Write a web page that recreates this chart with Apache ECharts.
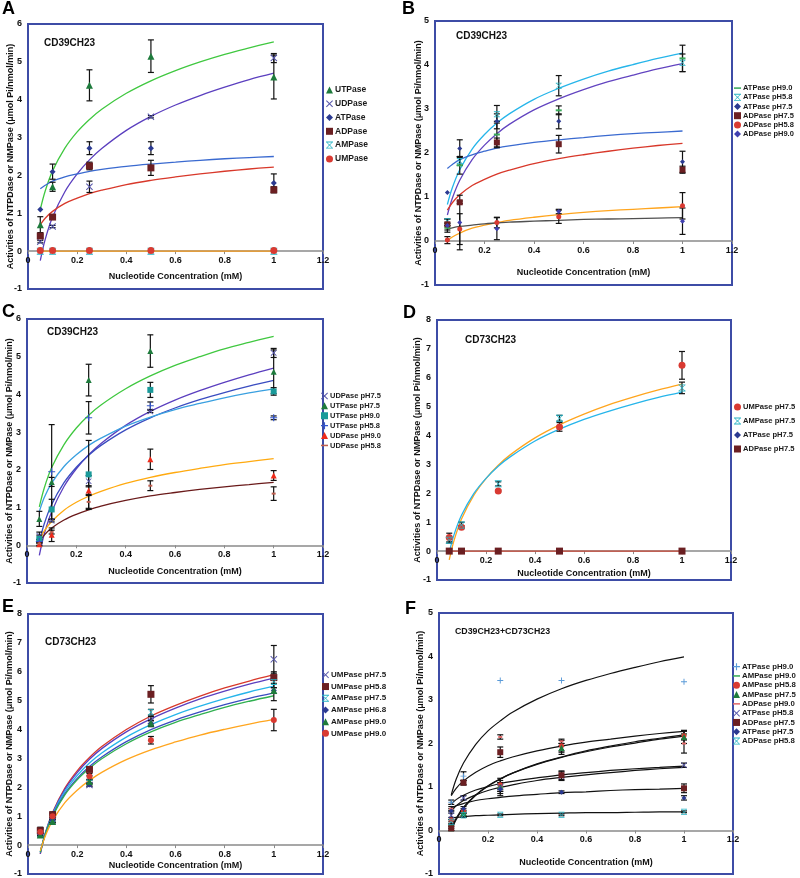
<!DOCTYPE html>
<html><head><meta charset="utf-8">
<script src="https://cdn.jsdelivr.net/npm/echarts@6/dist/echarts.min.js"></script>
<style>
html,body{margin:0;padding:0;background:#fff;width:800px;height:878px;overflow:hidden;position:relative}
.p{position:absolute}
</style></head>
<body>
<div id="pA" class="p" style="left:0;top:0;width:400px;height:298px"></div>
<div id="pB" class="p" style="left:400px;top:0;width:400px;height:298px"></div>
<div id="pC" class="p" style="left:0;top:290px;width:400px;height:298px"></div>
<div id="pD" class="p" style="left:400px;top:290px;width:400px;height:298px"></div>
<div id="pE" class="p" style="left:0;top:580px;width:400px;height:298px"></div>
<div id="pF" class="p" style="left:400px;top:580px;width:400px;height:298px"></div>
<script>
// ---------- shared x values ----------
const X = [0.05, 0.1, 0.25, 0.5, 1];                       // measured concentrations
const CX = [0.05,0.07,0.1,0.15,0.2,0.25,0.3,0.4,0.5,0.6,0.7,0.8,0.9,1]; // positions where fitted curves were read
const X_TICKS = [0, 0.2, 0.4, 0.6, 0.8, 1, 1.2];

// ---------- Panel A ----------
const A_UTPase = [0.7,1.7,4.38,5.15,4.6];   const A_UTPase_err = [0.21,0.12,0.41,0.43,0.58];
const A_UDPase = [0.25,0.65,1.7,3.55,5.1];  const A_UDPase_err = [0.03,0.03,0.15,0.03,0.12];
const A_ATPase = [1.1,2.1,2.72,2.72,1.8];   const A_ATPase_err = [0,0.2,0.17,0.17,0.24];
const A_ADPase = [0.4,0.9,2.25,2.2,1.62];   const A_ADPase_err = [0.03,0.05,0.1,0.2,0.08];
const A_AMPase = [0,0,0,0,0];
const A_UMPase = [0.02,0.02,0.02,0.02,0.02];
const A_fit_UTP = [1.10,1.59,2.12,2.72,3.15,3.48,3.75,4.17,4.50,4.77,5.00,5.20,5.37,5.53];
const A_fit_UDP = [-0.25,0.31,0.90,1.57,2.04,2.41,2.71,3.19,3.56,3.86,4.11,4.33,4.53,4.70];
const A_fit_ATP = [1.65,1.74,1.85,1.96,2.04,2.11,2.16,2.24,2.30,2.35,2.40,2.44,2.47,2.50];
const A_fit_ADP = [0.70,0.87,1.05,1.26,1.40,1.52,1.61,1.76,1.87,1.96,2.04,2.11,2.17,2.22];
const A_fit_UMP = [0,0,0,0,0,0,0,0,0,0,0,0,0,0];

// ---------- Panel B ----------
const B_ATP90 = [0.3,1.72,2.42,2.97,4.15];  const B_ATP90_err = [0.05,0.2,0.3,0.1,0.3];
const B_ATP58 = [0.45,1.82,2.88,3.53,4.05]; const B_ATP58_err = [0.05,0.1,0.2,0.23,0.2];
const B_ATP75 = [1.1,2.1,2.72,2.72,1.8];    const B_ATP75_err = [0,0.2,0.17,0.17,0.24];
const B_ADP75 = [0.38,0.88,2.24,2.2,1.62];  const B_ADP75_err = [0.03,0.03,0.1,0.2,0.08];
const B_ADP58 = [0.02,0.27,0.42,0.55,0.8];  const B_ADP58_err = [0.08,0.35,0.12,0.15,0.3];
const B_ADP90 = [0.35,0.42,0.28,0.67,0.45]; const B_ADP90_err = [0.15,0.62,0.25,0.05,0.3];
const B_fit_ATP58 = [0.83,1.21,1.62,2.09,2.42,2.68,2.89,3.22,3.47,3.68,3.86,4.01,4.15,4.27];
const B_fit_ATP90 = [0.59,0.97,1.38,1.85,2.18,2.44,2.65,2.98,3.23,3.44,3.62,3.77,3.91,4.03];
const B_fit_ATP75 = [1.65,1.74,1.85,1.96,2.04,2.11,2.16,2.24,2.30,2.35,2.40,2.44,2.47,2.50];
const B_fit_ADP75 = [0.70,0.87,1.05,1.26,1.40,1.52,1.61,1.76,1.87,1.96,2.04,2.11,2.17,2.22];
const B_fit_ADP58 = [0.00,0.09,0.18,0.29,0.36,0.42,0.47,0.54,0.60,0.65,0.69,0.72,0.75,0.78];
const B_fit_ADP90 = [0.27,0.30,0.33,0.36,0.39,0.41,0.43,0.45,0.47,0.49,0.50,0.51,0.52,0.53];

// ---------- Panel C ----------
const C_UDP75 = [0.25,0.65,1.7,3.55,5.1];   const C_UDP75_err = [0.1,0.03,0.15,0.03,0.12];
const C_UTP75 = [0.7,1.68,4.38,5.15,4.6];   const C_UTP75_err = [0.2,0.12,0.42,0.43,0.58];
const C_UTP90 = [0.17,0.95,1.88,4.12,4.08]; const C_UTP90_err = [0.1,0.27,0.9,0.2,0.1];
const C_UTP58 = [0.1,1.95,3.38,3.7,3.38];   const C_UTP58_err = [0.05,1.25,0.43,0.1,0.05];
const C_UDP90 = [0.03,0.28,1.45,2.28,1.85]; const C_UDP90_err = [0.05,0.18,0.13,0.27,0.13];
const C_UDP58 = [0.05,0.35,1.15,1.58,1.37]; const C_UDP58_err = [0.05,0.05,0.2,0.13,0.18];
const C_fit_UTP75 = [1.02,1.52,2.06,2.67,3.11,3.45,3.72,4.15,4.49,4.77,5.00,5.21,5.38,5.54];
const C_fit_UDP75 = [-0.27,0.30,0.89,1.56,2.03,2.40,2.70,3.18,3.55,3.85,4.10,4.32,4.52,4.70];
const C_fit_UTP58 = [0.09,0.57,1.08,1.66,2.07,2.39,2.65,3.06,3.38,3.64,3.86,4.05,4.22,4.37];
const C_fit_UTP90 = [0.90,1.27,1.65,2.09,2.40,2.65,2.84,3.16,3.40,3.60,3.76,3.91,4.04,4.15];
const C_fit_UDP90 = [0.13,0.38,0.63,0.93,1.14,1.30,1.43,1.64,1.80,1.93,2.04,2.14,2.22,2.30];
const C_fit_UDP58 = [0.09,0.27,0.46,0.67,0.82,0.94,1.04,1.19,1.31,1.40,1.48,1.55,1.61,1.67];

// ---------- Panel D ----------
const D_UMP75 = [0.47,0.83,2.08,4.3,6.43];  const D_UMP75_err = [0.15,0.05,0.03,0.15,0.48];
const D_AMP75 = [0.38,0.9,2.33,4.6,5.65];   const D_AMP75_err = [0.1,0.1,0.07,0.1,0.2];
const D_ATP75 = [0,0,0,0,0];
const D_ADP75 = [0,0,0,0,0];
const D_fit_UMP75 = [-0.30,0.38,1.11,1.93,2.51,2.97,3.34,3.92,4.37,4.74,5.06,5.33,5.57,5.78];
const D_fit_AMP75 = [-0.04,0.58,1.24,1.99,2.52,2.94,3.27,3.81,4.22,4.56,4.84,5.09,5.31,5.50];
const D_fit_ADP75 = [0,0,0,0,0,0,0,0,0,0,0,0,0,0];

// ---------- Panel E ----------
const E_UMP75 = [0.47,0.83,2.08,4.3,6.43];  const E_UMP75_err = [0.15,0.05,0.05,0.15,0.48];
const E_UMP58 = [0.5,1.05,2.62,5.22,5.8];   const E_UMP58_err = [0.1,0.1,0.05,0.3,0.2];
const E_AMP75 = [0.38,0.9,2.33,4.6,5.65];   const E_AMP75_err = [0.1,0.1,0.07,0.1,0.2];
const E_AMP68 = [0.38,0.85,2.1,4.2,5.35];   const E_AMP68_err = [0.05,0.05,0.05,0.1,0.1];
const E_AMP90 = [0.35,0.82,2.2,4.22,5.35];  const E_AMP90_err = [0.05,0.05,0.05,0.1,0.35];
const E_UMP90 = [0.45,1.0,2.38,3.63,4.33];  const E_UMP90_err = [0.1,0.1,0.1,0.13,0.37];
const E_fit_UMP58 = [-0.30,0.40,1.13,1.97,2.57,3.03,3.41,4.00,4.47,4.84,5.16,5.44,5.68,5.90];
const E_fit_UMP75 = [-0.30,0.38,1.11,1.93,2.51,2.97,3.34,3.92,4.37,4.74,5.06,5.33,5.57,5.78];
const E_fit_AMP75 = [-0.25,0.40,1.08,1.86,2.41,2.84,3.19,3.74,4.17,4.52,4.81,5.07,5.30,5.50];
const E_fit_AMP68 = [-0.24,0.38,1.03,1.78,2.31,2.72,3.05,3.58,4.00,4.33,4.61,4.86,5.08,5.27];
const E_fit_AMP90 = [-0.25,0.36,1.00,1.74,2.26,2.66,2.99,3.51,3.92,4.25,4.52,4.77,4.98,5.17];
const E_fit_UMP90 = [-0.20,0.31,0.85,1.47,1.90,2.24,2.52,2.96,3.30,3.57,3.81,4.01,4.19,4.35];

// ---------- Panel F ----------
const F_ATP90 = [0.65,1.25,3.45,3.45,3.42]; const F_ATP90_err = [0.05,0.1,0,0,0];
const F_AMP90 = [0.1,0.35,1.0,1.85,2.2];    const F_AMP90_err = [0.05,0.05,0.1,0.1,0.1];
const F_AMP58 = [0.25,0.45,1.05,1.95,2.18]; const F_AMP58_err = [0.05,0.05,0.1,0.12,0.1];
const F_AMP75 = [0.05,0.4,1.0,1.9,2.15];    const F_AMP75_err = [0.05,0.05,0.2,0.1,0.15];
const F_ADP90 = [0.5,1.1,2.15,2.05,2.0];    const F_ADP90_err = [0.05,0.05,0.05,0.05,0.22];
const F_ATP58 = [0.35,0.75,1.0,1.25,1.5];   const F_ATP58_err = [0.1,0.05,0.1,0.1,0.05];
const F_ADP75 = [0.05,1.1,1.8,1.27,0.97];   const F_ADP75_err = [0.05,0.05,0.12,0.1,0.1];
const F_ATP75 = [0.45,0.5,0.95,0.88,0.75];  const F_ATP75_err = [0.05,0.05,0.1,0.03,0.05];
const F_ADP58 = [0.2,0.35,0.36,0.36,0.43];  const F_ADP58_err = [0.05,0.05,0.02,0.02,0.02];
const F_fit1 = [0.82,1.18,1.55,1.98,2.29,2.52,2.72,3.02,3.26,3.45,3.61,3.75,3.88,3.99];
const F_fit2 = [0.80,0.97,1.14,1.34,1.49,1.60,1.69,1.83,1.94,2.03,2.10,2.17,2.23,2.28];
const F_fit3 = [0.00,0.25,0.51,0.81,1.02,1.18,1.32,1.53,1.69,1.83,1.94,2.04,2.12,2.20];
const F_fit4 = [0.04,0.28,0.54,0.82,1.03,1.19,1.32,1.52,1.68,1.81,1.92,2.01,2.10,2.17];
const F_fit5 = [0.61,0.71,0.81,0.93,1.01,1.08,1.13,1.21,1.28,1.33,1.38,1.42,1.45,1.48];
const F_fit6 = [0.46,0.57,0.69,0.82,0.92,0.99,1.05,1.15,1.22,1.28,1.33,1.38,1.42,1.45];
const F_fit7 = [0.52,0.57,0.62,0.69,0.73,0.76,0.79,0.83,0.87,0.89,0.92,0.94,0.95,0.97];
const F_fit8 = [0.29,0.30,0.32,0.34,0.35,0.36,0.37,0.39,0.40,0.41,0.41,0.42,0.43,0.43];

// ---------- styling helpers ----------
const FONT = '"Liberation Sans", Arial, sans-serif';
const SYM = {
  tri: 'triangle', sq: 'rect', circ: 'circle', dia: 'diamond',
  x: 'path://M0,1L1,0L5,4L9,0L10,1L6,5L10,9L9,10L5,6L1,10L0,9L4,5Z',
  ast: 'path://M0,0H10V1.3H0Z M0,8.7H10V10H0Z M0.8,1.3L1.8,1.3L5,4.3L8.2,1.3L9.2,1.3L5.8,5L9.2,8.7L8.2,8.7L5,5.7L1.8,8.7L0.8,8.7L4.2,5Z',
  plus: 'path://M4.2,0H5.8V4.2H10V5.8H5.8V10H4.2V5.8H0V4.2H4.2Z',
  dash: 'rect'
};
const DASH_ICON = 'path://M0,0H10V2.2H0Z';

const C_GREEN_M = '#1e7b3c', C_PURPLE_M = '#5555aa', C_NAVY_M = '#2b3a91', C_MAROON = '#6b1f22',
      C_CYAN_M = '#27b3c4', C_RED_M = '#d93a32';

function errBar(params, api) {
  const x = api.value(0), y = api.value(1), e = api.value(2);
  if (!e) return null;
  const t = api.coord([x, y + e]), b = api.coord([x, y - e]);
  const hw = 3, st = {stroke: '#111', lineWidth: 1.2};
  return {type: 'group', children: [
    {type: 'line', shape: {x1: t[0], y1: t[1], x2: b[0], y2: b[1]}, style: st},
    {type: 'line', shape: {x1: t[0] - hw, y1: t[1], x2: t[0] + hw, y2: t[1]}, style: st},
    {type: 'line', shape: {x1: b[0] - hw, y1: b[1], x2: b[0] + hw, y2: b[1]}, style: st}
  ]};
}

function build(id, P) {
  const chart = echarts.init(document.getElementById(id), null, {renderer: 'canvas'});
  const series = [];
  P.curves.forEach(c => series.push({
    type: 'line', data: CX.map((x, i) => [x, c.y[i]]), smooth: 0.35, symbol: 'none', silent: true,
    lineStyle: {color: c.color, width: c.w || 1.3}, z: 2
  }));
  P.pts.forEach(s => series.push({
    type: 'custom', silent: true, z: 3, renderItem: errBar,
    data: X.map((x, i) => [x, s.y[i], s.e ? s.e[i] : 0]), encode: {x: 0, y: 1}
  }));
  P.pts.forEach(s => series.push({
    type: 'scatter', name: s.name, data: X.map((x, i) => [x, s.y[i]]),
    symbol: SYM[s.sym], symbolSize: s.size, itemStyle: {color: s.color, opacity: 1}, z: 4
  }));
  const legendData = P.pts.map(s => s.sym === 'dash' ? {name: s.name, icon: DASH_ICON} : {name: s.name});
  const lbl = {fontSize: 9, fontWeight: 'bold', color: '#111', fontFamily: FONT};
  // place the x axis on the y = 0 level of its own value scale
  const zeroOffset = -P.grid.height * (0 - P.ymin) / (P.ymax - P.ymin);
  chart.setOption({
    animation: false,
    backgroundColor: 'transparent',
    textStyle: {fontFamily: FONT},
    grid: Object.assign({show: true, borderColor: '#3d4ca6', borderWidth: 2, backgroundColor: 'transparent',
                         containLabel: false,
                         outerBounds: {left: -400, top: -400, right: -400, bottom: -400}}, P.grid),
    xAxis: {
      type: 'value', min: X_TICKS[0], max: X_TICKS[X_TICKS.length - 1], interval: 0.2,
      position: 'bottom', offset: zeroOffset,
      axisLine: {onZero: false, lineStyle: {color: '#8a8a8a', width: 1.5}},
      axisTick: {show: true, length: 3, lineStyle: {color: '#8a8a8a'}},
      axisLabel: Object.assign({margin: 5, showMinLabel: true, showMaxLabel: true}, lbl),
      splitLine: {show: false},
      name: 'Nucleotide Concentration (mM)', nameLocation: 'middle', nameGap: P.xGap, nameMoveOverlap: false,
      nameTextStyle: {fontSize: 9, fontWeight: 'bold', color: '#111', fontFamily: FONT}
    },
    yAxis: {
      type: 'value', min: P.ymin, max: P.ymax, interval: 1,
      axisLine: {show: false}, axisTick: {show: false},
      axisLabel: Object.assign({margin: 6, showMinLabel: true, showMaxLabel: true}, lbl),
      splitLine: {show: false},
      name: 'Activities of NTPDase or NMPase (\u03bcmol Pi/nmol/min)', nameLocation: 'middle', nameGap: P.yGap,
      nameMoveOverlap: false,
      nameTextStyle: {fontSize: 9, fontWeight: 'bold', color: '#111', fontFamily: FONT}
    },
    legend: {
      orient: 'vertical', left: P.legend.left, top: P.legend.top, itemGap: 0, itemWidth: 7, itemHeight: 7,
      selectedMode: false, padding: 0,
      textStyle: {fontSize: P.legend.font, fontWeight: 'bold', color: '#1a1a1a', fontFamily: FONT,
                  lineHeight: P.legend.step, padding: [0, 0, 0, -3]},
      data: legendData
    },
    graphic: [
      {type: 'text', left: P.letter.left, top: P.letter.top,
       style: {text: P.letter.text, font: 'bold 18px ' + FONT, fill: '#000'}},
      {type: 'text', left: P.title.left, top: P.title.top,
       style: {text: P.title.text, font: 'bold ' + (P.title.size || 10) + 'px ' + FONT, fill: '#111'}}
    ],
    series: series
  });
}

build('pA', {
  ymin: -1, ymax: 6, grid: {left: 28, top: 24, width: 295, height: 265}, xGap: 21, yGap: 13,
  legend: {left: 326, top: 83, step: 13.8, font: 8.5},
  letter: {text: 'A', left: 2, top: 0}, title: {text: 'CD39CH23', left: 44, top: 38},
  curves: [
    {y: A_fit_UTP, color: '#40c840'}, {y: A_fit_UDP, color: '#5b3fbf'},
    {y: A_fit_ATP, color: '#3a6ad0'}, {y: A_fit_ADP, color: '#d8382a'},
    {y: A_fit_UMP, color: '#f59a1e'}
  ],
  pts: [
    {name: 'UTPase', y: A_UTPase, e: A_UTPase_err, sym: 'tri', size: 7, color: C_GREEN_M},
    {name: 'UDPase', y: A_UDPase, e: A_UDPase_err, sym: 'x', size: 7, color: C_PURPLE_M},
    {name: 'ATPase', y: A_ATPase, e: A_ATPase_err, sym: 'dia', size: 6, color: C_NAVY_M},
    {name: 'ADPase', y: A_ADPase, e: A_ADPase_err, sym: 'sq', size: 7, color: C_MAROON},
    {name: 'AMPase', y: A_AMPase, sym: 'ast', size: 7, color: C_CYAN_M},
    {name: 'UMPase', y: A_UMPase, sym: 'circ', size: 7, color: C_RED_M}
  ]
});

build('pB', {
  ymin: -1, ymax: 5, grid: {left: 35, top: 21, width: 297, height: 264}, xGap: 27, yGap: 12,
  legend: {left: 334, top: 83.5, step: 9.2, font: 7.5},
  letter: {text: 'B', left: 2, top: 0}, title: {text: 'CD39CH23', left: 56, top: 31},
  curves: [
    {y: B_fit_ATP58, color: '#26b5ea'}, {y: B_fit_ATP90, color: '#6244c0'},
    {y: B_fit_ATP75, color: '#3a6ad0'}, {y: B_fit_ADP75, color: '#d8382a'},
    {y: B_fit_ADP58, color: '#ffa51e'}, {y: B_fit_ADP90, color: '#505050'}
  ],
  pts: [
    {name: 'ATPase pH9.0', y: B_ATP90, e: B_ATP90_err, sym: 'dash', size: [6, 2], color: '#3aaa5a'},
    {name: 'ATPase pH5.8', y: B_ATP58, e: B_ATP58_err, sym: 'ast', size: 6, color: C_CYAN_M},
    {name: 'ATPase pH7.5', y: B_ATP75, e: B_ATP75_err, sym: 'dia', size: 5, color: C_NAVY_M},
    {name: 'ADPase pH7.5', y: B_ADP75, e: B_ADP75_err, sym: 'sq', size: 6, color: C_MAROON},
    {name: 'ADPase pH5.8', y: B_ADP58, e: B_ADP58_err, sym: 'circ', size: 5, color: C_RED_M},
    {name: 'ADPase pH9.0', y: B_ADP90, e: B_ADP90_err, sym: 'dia', size: 5, color: '#4040b0'}
  ]
});

build('pC', {
  ymin: -1, ymax: 6, grid: {left: 27, top: 29, width: 296, height: 264}, xGap: 22, yGap: 13,
  legend: {left: 321, top: 101, step: 9.9, font: 7.5},
  letter: {text: 'C', left: 2, top: 13}, title: {text: 'CD39CH23', left: 47, top: 37},
  curves: [
    {y: C_fit_UTP75, color: '#40c840'}, {y: C_fit_UDP75, color: '#5b3fbf'},
    {y: C_fit_UTP58, color: '#3a4cc0'}, {y: C_fit_UTP90, color: '#3aa0e0'},
    {y: C_fit_UDP90, color: '#ffaa10'}, {y: C_fit_UDP58, color: '#6a1a1a'}
  ],
  pts: [
    {name: 'UDPase pH7.5', y: C_UDP75, e: C_UDP75_err, sym: 'x', size: 6, color: C_PURPLE_M},
    {name: 'UTPase pH7.5', y: C_UTP75, e: C_UTP75_err, sym: 'tri', size: 6, color: C_GREEN_M},
    {name: 'UTPase pH9.0', y: C_UTP90, e: C_UTP90_err, sym: 'sq', size: 6, color: '#1a9a9a'},
    {name: 'UTPase pH5.8', y: C_UTP58, e: C_UTP58_err, sym: 'plus', size: 7, color: '#3355cc'},
    {name: 'UDPase pH9.0', y: C_UDP90, e: C_UDP90_err, sym: 'tri', size: 6, color: '#ee2a1a'},
    {name: 'UDPase pH5.8', y: C_UDP58, e: C_UDP58_err, sym: 'dash', size: [4, 2], color: '#c06050'}
  ]
});

build('pD', {
  ymin: -1, ymax: 8, grid: {left: 37, top: 30, width: 294, height: 260}, xGap: 18, yGap: 15,
  legend: {left: 334, top: 110, step: 14, font: 7.6},
  letter: {text: 'D', left: 3, top: 14}, title: {text: 'CD73CH23', left: 65, top: 45},
  curves: [
    {y: D_fit_UMP75, color: '#ffa51e'}, {y: D_fit_AMP75, color: '#26b5ea'},
    {y: D_fit_ADP75, color: '#c84a3a'}
  ],
  pts: [
    {name: 'UMPase pH7.5', y: D_UMP75, e: D_UMP75_err, sym: 'circ', size: 7, color: C_RED_M},
    {name: 'AMPase pH7.5', y: D_AMP75, e: D_AMP75_err, sym: 'ast', size: 7, color: C_CYAN_M},
    {name: 'ATPase pH7.5', y: D_ATP75, sym: 'dia', size: 6, color: C_NAVY_M},
    {name: 'ADPase pH7.5', y: D_ADP75, sym: 'sq', size: 7, color: C_MAROON}
  ]
});

build('pE', {
  ymin: -1, ymax: 8, grid: {left: 28, top: 34, width: 295, height: 260}, xGap: 16, yGap: 14,
  legend: {left: 322, top: 89, step: 11.7, font: 8},
  letter: {text: 'E', left: 2, top: 18}, title: {text: 'CD73CH23', left: 45, top: 57},
  curves: [
    {y: E_fit_UMP58, color: '#d8382a'}, {y: E_fit_UMP75, color: '#5b3fbf'},
    {y: E_fit_AMP75, color: '#26b5ea'}, {y: E_fit_AMP68, color: '#3a4cc0'},
    {y: E_fit_AMP90, color: '#30b050'}, {y: E_fit_UMP90, color: '#ffa51e'}
  ],
  pts: [
    {name: 'UMPase pH7.5', y: E_UMP75, e: E_UMP75_err, sym: 'x', size: 7, color: C_PURPLE_M},
    {name: 'UMPase pH5.8', y: E_UMP58, e: E_UMP58_err, sym: 'sq', size: 7, color: C_MAROON},
    {name: 'AMPase pH7.5', y: E_AMP75, e: E_AMP75_err, sym: 'ast', size: 6, color: C_CYAN_M},
    {name: 'AMPase pH6.8', y: E_AMP68, e: E_AMP68_err, sym: 'dia', size: 6, color: C_NAVY_M},
    {name: 'AMPase pH9.0', y: E_AMP90, e: E_AMP90_err, sym: 'tri', size: 7, color: C_GREEN_M},
    {name: 'UMPase pH9.0', y: E_UMP90, e: E_UMP90_err, sym: 'circ', size: 6, color: C_RED_M}
  ]
});

build('pF', {
  ymin: -1, ymax: 5, grid: {left: 39, top: 33, width: 294, height: 261}, xGap: 28, yGap: 14,
  legend: {left: 333, top: 82, step: 9.3, font: 7.8},
  letter: {text: 'F', left: 5, top: 20}, title: {text: 'CD39CH23+CD73CH23', left: 55, top: 47, size: 8.8},
  curves: [
    {y: F_fit1, color: '#111', w: 1.2}, {y: F_fit2, color: '#111', w: 1.2},
    {y: F_fit3, color: '#111', w: 1.2}, {y: F_fit4, color: '#111', w: 1.2},
    {y: F_fit5, color: '#111', w: 1.2}, {y: F_fit6, color: '#111', w: 1.2},
    {y: F_fit7, color: '#111', w: 1.2}, {y: F_fit8, color: '#111', w: 1.2}
  ],
  pts: [
    {name: 'ATPase pH9.0', y: F_ATP90, e: F_ATP90_err, sym: 'plus', size: 6, color: '#5a9ad8'},
    {name: 'AMPase pH9.0', y: F_AMP90, e: F_AMP90_err, sym: 'dash', size: [5, 2], color: '#3aaa5a'},
    {name: 'AMPase pH5.8', y: F_AMP58, e: F_AMP58_err, sym: 'circ', size: 5, color: C_RED_M},
    {name: 'AMPase pH7.5', y: F_AMP75, e: F_AMP75_err, sym: 'tri', size: 6, color: C_GREEN_M},
    {name: 'ADPase pH9.0', y: F_ADP90, e: F_ADP90_err, sym: 'dash', size: [4, 2], color: '#e06a6a'},
    {name: 'ATPase pH5.8', y: F_ATP58, e: F_ATP58_err, sym: 'x', size: 6, color: C_PURPLE_M},
    {name: 'ADPase pH7.5', y: F_ADP75, e: F_ADP75_err, sym: 'sq', size: 6, color: C_MAROON},
    {name: 'ATPase pH7.5', y: F_ATP75, e: F_ATP75_err, sym: 'dia', size: 5, color: C_NAVY_M},
    {name: 'ADPase pH5.8', y: F_ADP58, e: F_ADP58_err, sym: 'ast', size: 6, color: C_CYAN_M}
  ]
});
</script>
</body></html>
